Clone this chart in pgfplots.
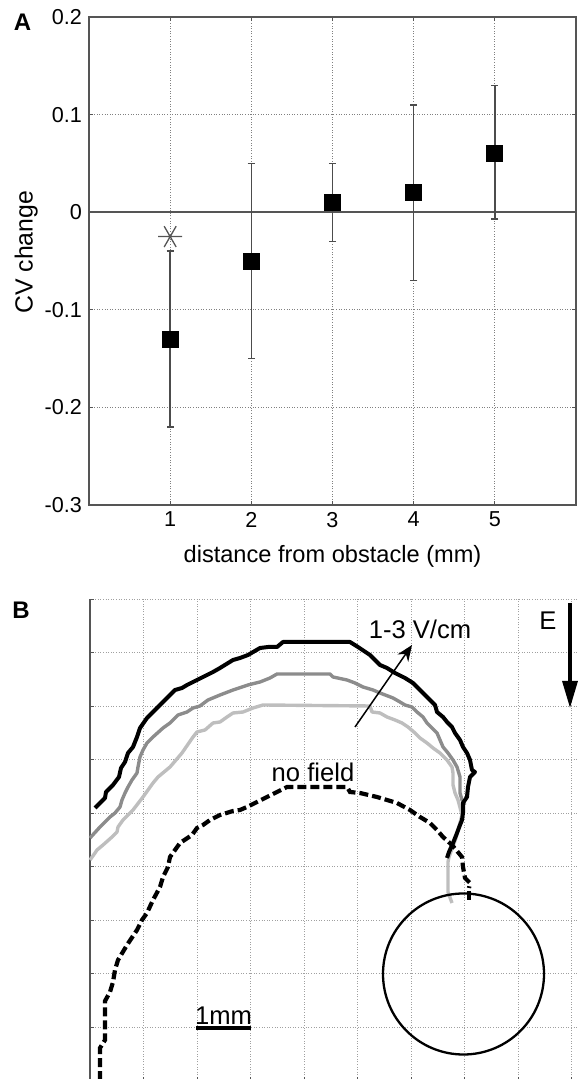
\documentclass[border=0pt]{standalone}
\usepackage{fontspec}
\setmainfont{Liberation Sans}
\usepackage{pgfplots}
\usepackage{pgfplotstable}
\pgfplotsset{compat=1.18}
\usetikzlibrary{arrows.meta}

\definecolor{axgray}{HTML}{555555}
\definecolor{gridA}{HTML}{808080}
\definecolor{gridB}{HTML}{A0A0A0}
\definecolor{midgray}{HTML}{8C8C8C}
\definecolor{ltgray}{HTML}{BEBEBE}

% panel A: mean CV change with error bars
\pgfplotstableread{
x y ep em
1 -0.13 0.09 0.09
2 -0.05 0.10 0.10
3 0.01 0.04 0.04
4 0.02 0.09 0.09
5 0.06 0.07 0.067
}\cvdata

\begin{document}
\begin{tikzpicture}
\path[use as bounding box] (0,0) rectangle (288.5pt,539.5pt);

\node[font=\bfseries\fontsize{12}{14}\selectfont] at (11.25pt,528.25pt) {A};
\node[font=\bfseries\fontsize{12}{14}\selectfont] at (10.5pt,234.5pt) {B};

\begin{axis}[
  at={(44.5pt,287pt)}, anchor=south west, scale only axis,
  width=243.5pt, height=244pt,
  xmin=0, xmax=6, ymin=-0.3, ymax=0.2,
  xtick={1,2,3,4,5}, ytick={-0.3,-0.2,-0.1,0,0.1,0.2},
  xticklabels={1,2,3,4,5}, yticklabels={-0.3,-0.2,-0.1,0,0.1,0.2},
  tick align=inside, major tick length=2pt,
  tick style={axgray, line width=0.45pt},
  axis line style={axgray, line width=0.6pt},
  grid=major,
  major grid style={gridA, line width=0.45pt, dash pattern=on 0.5pt off 0.8pt},
  ticklabel style={font=\fontsize{10.8}{13}\selectfont},
  xlabel={distance from obstacle (mm)}, ylabel={CV change},
  xlabel style={font=\fontsize{11.8}{14}\selectfont, at={(axis description cs:0.5,0)}, anchor=north, yshift=-20pt, inner sep=0pt},
  ylabel style={font=\fontsize{12.4}{14}\selectfont, at={(axis description cs:-0.129,0.518)}, anchor=center, inner sep=0pt},
  clip=false,
]
\addplot[axgray, line width=0.8pt, forget plot] coordinates {(0,0) (6,0)};
\addplot[only marks, mark=square*, mark size=4pt,
  mark options={fill=black, draw=black},
  error bars/.cd, y dir=both, y explicit,
  error bar style={color=black!70, line width=0.75pt},
  error mark options={rotate=90, mark size=1.8pt, black!70, line width=0.75pt}]
  table[x=x, y=y, y error plus=ep, y error minus=em] {\cvdata};
\addplot[only marks, mark=asterisk, mark size=6pt,
  mark options={rotate=90, draw=axgray, line width=0.65pt}]
  coordinates {(1,-0.025)};
\end{axis}

% panel B: wave front outlines, coordinates in image pixels (y negated)
\begin{axis}[
  at={(45pt,-0.75pt)}, anchor=south west, scale only axis,
  width=243.5pt, height=240.75pt,
  xmin=90, xmax=577, ymin=-1080.5, ymax=-599,
  xtick={90,143.5,197,250.5,304,357.5,411,464.5,518,571.5},
  ytick={-1080.5,-1027,-973.5,-920,-866.5,-813,-759.5,-706,-652.5,-599},
  xticklabels={}, yticklabels={},
  axis x line*=bottom, axis y line*=left,
  tick align=inside, major tick length=2pt,
  tick style={axgray, line width=0.45pt},
  axis line style={axgray, line width=0.6pt},
  grid=major,
  major grid style={gridB, line width=0.45pt, dash pattern=on 0.5pt off 0.8pt},
  clip=false,
]
\addplot[ltgray, line width=1.7pt, line join=round] coordinates {
(90,-860) (95,-853) (97,-850) (103,-845) (112,-837) (117,-832) (118,-827) (123,-820)
(133,-810) (143,-797) (153,-783) (158,-777) (170,-767) (182,-753) (193,-737) (197,-732)
(205,-730) (213,-723) (220,-722) (227,-717) (233,-713) (243,-712) (253,-708) (263,-705)
(370,-706) (372,-712) (380,-713) (387,-717) (395,-720) (402,-723) (408,-727) (415,-733)
(420,-738) (427,-743) (433,-748) (440,-753) (447,-760) (452,-767) (453,-773) (453,-785)
(455,-793) (458,-800) (462,-815) (456,-838) (449,-857) (448,-862) (448,-892) (452,-903)
};
\addplot[midgray, line width=1.7pt, line join=round] coordinates {
(90,-838) (100,-827) (110,-817) (115,-813) (120,-807) (122,-800) (125,-793) (128,-787)
(132,-780) (137,-773) (138,-767) (140,-757) (143,-750) (147,-743) (153,-737) (163,-728)
(170,-723) (178,-715) (187,-712) (193,-708) (200,-706) (208,-700) (220,-695) (233,-690)
(248,-685) (260,-682) (270,-678) (277,-674) (330,-674) (333,-677) (347,-680) (355,-683)
(363,-687) (373,-690) (380,-693) (393,-698) (400,-702) (405,-705) (412,-707) (417,-712)
(423,-717) (427,-723) (432,-728) (437,-733) (440,-740) (443,-747) (448,-753) (453,-760)
(457,-767) (460,-777) (460,-793) (462,-800) (465,-805)
};
\addplot[black, line width=2pt, line join=round] coordinates {
(95,-808) (105,-798) (106,-792) (113,-785) (119,-777) (121,-768) (125,-762) (128,-753)
(133,-747) (137,-737) (140,-728) (147,-718) (153,-712) (160,-705) (167,-698) (175,-690)
(182,-688) (187,-685) (197,-680) (203,-677) (213,-672) (220,-668) (233,-660) (240,-658)
(248,-655) (260,-648) (268,-647) (277,-647) (283,-642) (350,-642) (358,-647) (370,-655)
(380,-665) (387,-668) (395,-673) (405,-678) (413,-683) (420,-690) (427,-697) (435,-705)
(437,-712) (443,-717) (447,-722) (452,-727) (455,-733) (460,-740) (463,-747) (467,-753)
(470,-760) (472,-770) (475,-772) (470,-777) (468,-787) (467,-797) (463,-803) (463,-813)
(462,-820) (460,-825) (457,-833) (453,-843) (449,-852) (447,-858)
};
\addplot[black, line width=2.1pt, dash pattern=on 4.5pt off 2pt] coordinates {
(100,-1080) (100,-1048) (105,-1040) (105,-1001) (110,-992) (113,-982) (115,-970) (118,-960)
(127,-945) (137,-930) (142,-920) (147,-913) (153,-900) (160,-887) (163,-877) (168,-867)
(170,-857) (180,-843) (192,-835) (197,-828) (203,-825) (210,-820) (220,-815) (233,-811)
(240,-810) (247,-807) (257,-802) (267,-797) (277,-792) (287,-787) (347,-787) (350,-792)
(360,-793) (377,-797) (387,-800) (397,-803) (410,-810) (420,-817) (430,-823) (437,-830)
(443,-837) (452,-845) (462,-857) (463,-867) (465,-878) (470,-883) (469,-888)
};
% last dash of the no-field front, crossing the obstacle edge
\addplot[black, line width=2.1pt] coordinates {(469,-891) (469,-900)};
% obstacle
\draw[black, line width=1.15pt] (axis cs:463.5,-974) circle[radius=80.5];
% scale bar
\addplot[black, line width=1.6pt] coordinates {(196,-1028) (251,-1028)};
% field strength arrow and field direction
\addplot[black, line width=0.75pt, -{Stealth[length=8pt, width=6.5pt]}] coordinates {(355,-727) (412,-645)};
\addplot[black, line width=1.6pt, -{Triangle[length=13.5pt, width=7.5pt]}] coordinates {(570,-603) (570,-708)};
\node[font=\fontsize{12.8}{15}\selectfont] at (axis cs:420,-629) {1-3 V/cm};
\node[font=\fontsize{12.8}{15}\selectfont, anchor=base] at (axis cs:313,-782) {no field};
\node[font=\fontsize{12.8}{15}\selectfont, anchor=base, inner sep=0pt] at (axis cs:223.5,-1025) {1mm};
\node[font=\fontsize{12.8}{15}\selectfont] at (axis cs:548,-621) {E};
\end{axis}
\end{tikzpicture}
\end{document}
